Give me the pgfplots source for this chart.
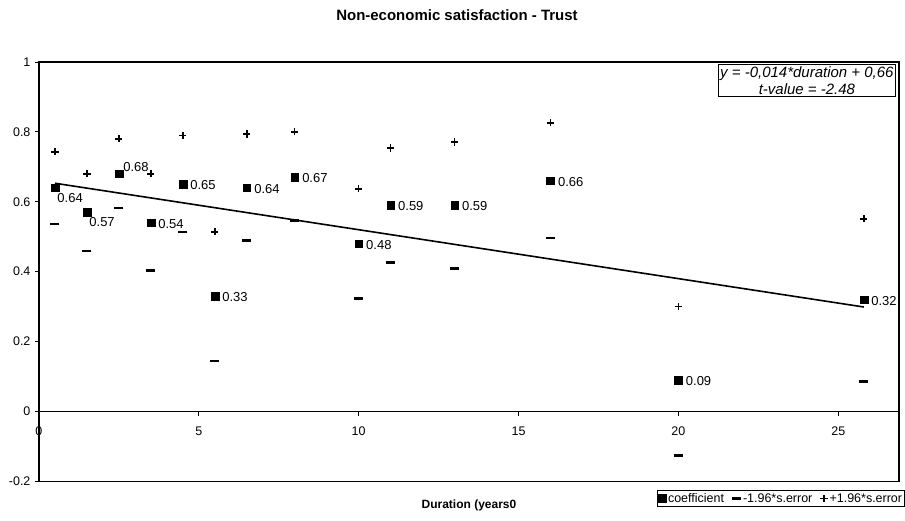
\documentclass[border=0pt]{standalone}
\usepackage{fontspec}
\setmainfont{Liberation Sans}
\usepackage{pgfplots}
\pgfplotsset{compat=1.18}
\begin{document}
\begin{tikzpicture}
\begin{axis}[
  name=main,
  scale only axis,
  width=861pt, height=420pt,
  xmin=0, xmax=26.9, ymin=-0.2, ymax=1,
  axis x line*=middle,
  axis y line*=left,
  hide obscured x ticks=false,
  hide obscured y ticks=false,
  x axis line style={-, line width=1pt},
  y axis line style={-, line width=1.6pt},
  xtick={0,5,10,15,20,25},
  xticklabels={0,5,10,15,20,25},
  ytick={-0.2,0,0.2,0.4,0.6,0.8,1},
  yticklabels={-0.2,0,0.2,0.4,0.6,0.8,1},
  tick align=outside,
  major tick length=4pt,
  tick style={black, line width=0.8pt},
  x tick label style={font=\fontsize{12.5}{14}\selectfont, yshift=-8pt},
  y tick label style={font=\fontsize{12.5}{14}\selectfont, xshift=-1pt},
  clip=false,
  legend style={at={(1,0)}, anchor=north east, xshift=6pt, yshift=-9pt,
    legend columns=3, draw=black, line width=0.8pt, inner sep=0.5pt,
    font=\fontsize{12.5}{13}\selectfont,
    /tikz/every even column/.append style={column sep=6pt}},
  legend cell align=left,
]
\draw[line width=1.5pt] (rel axis cs:0,0) rectangle (rel axis cs:1,1);
% coefficient
\addplot[only marks, mark=square*, mark size=3.9pt, black] coordinates {
(0.5,0.64) (1.5,0.57) (2.5,0.68) (3.5,0.54) (4.5,0.65) (5.5,0.33) (6.5,0.64)
(8,0.67) (10,0.48) (11,0.59) (13,0.59) (16,0.66) (20,0.09) (25.8,0.32)};
\addlegendentry{coefficient}
% lower
\addplot[only marks, mark=-, mark size=4.5pt, line width=2.4pt, black] coordinates {
(0.5,0.537) (1.5,0.46) (2.5,0.583) (3.5,0.403) (4.5,0.514) (5.5,0.144) (6.5,0.489)
(8,0.546) (10,0.323) (11,0.426) (13,0.409) (16,0.497) (20,-0.126) (25.8,0.086)};
\addlegendentry{-1.96*s.error}
% upper
\addplot[only marks, mark=+, mark size=3.6pt, line width=1.5pt, black] coordinates {
(0.5,0.743) (1.5,0.68) (2.5,0.78) (3.5,0.68) (4.5,0.789) (5.5,0.514) (6.5,0.794)
(8,0.80) (10,0.637) (11,0.754) (13,0.771) (16,0.826) (20,0.30) (25.8,0.551)};
\addlegendentry{+1.96*s.error}
% regression line
\addplot[black, line width=1.6pt, mark=none, forget plot] coordinates {(0.5,0.653) (25.8,0.299)};
% labels: right
\addplot[draw=none, mark=none, forget plot, nodes near coords, point meta=explicit symbolic,
  nodes near coords style={anchor=west, xshift=4pt, yshift=-1pt, font=\fontsize{13}{14}\selectfont}]
  coordinates {
(3.5,0.54) [0.54] (4.5,0.65) [0.65] (5.5,0.33) [0.33] (6.5,0.64) [0.64]
(8,0.67) [0.67] (10,0.48) [0.48] (11,0.59) [0.59] (13,0.59) [0.59] (16,0.66) [0.66]
(20,0.09) [0.09] (25.8,0.32) [0.32]};
% labels: below right
\addplot[draw=none, mark=none, forget plot, nodes near coords, point meta=explicit symbolic,
  nodes near coords style={anchor=west, xshift=-1pt, yshift=-10pt, font=\fontsize{13}{14}\selectfont}]
  coordinates {(0.5,0.64) [0.64] (1.5,0.57) [0.57]};
% labels: above right
\addplot[draw=none, mark=none, forget plot, nodes near coords, point meta=explicit symbolic,
  nodes near coords style={anchor=west, xshift=1pt, yshift=7pt, font=\fontsize{13}{14}\selectfont}]
  coordinates {(2.5,0.68) [0.68]};
\node[draw, line width=1pt, anchor=north east, align=center, inner sep=2pt,
  font=\fontsize{15}{17}\selectfont\itshape] at ([xshift=-3pt,yshift=-2pt]rel axis cs:1,1)
  {y = -0,014*duration + 0,66\\t-value = -2.48};
\end{axis}
\node[font=\fontsize{15}{17}\selectfont\bfseries] at ([xshift=-12pt,yshift=47pt]main.north) {Non-economic satisfaction - Trust};
\node[font=\fontsize{12}{14}\selectfont\bfseries] at ([yshift=-24pt]main.south) {Duration (years0};
\path ([xshift=-39pt,yshift=-39pt]main.south west) rectangle ([xshift=6pt,yshift=62pt]main.north east);
\end{tikzpicture}
\end{document}
